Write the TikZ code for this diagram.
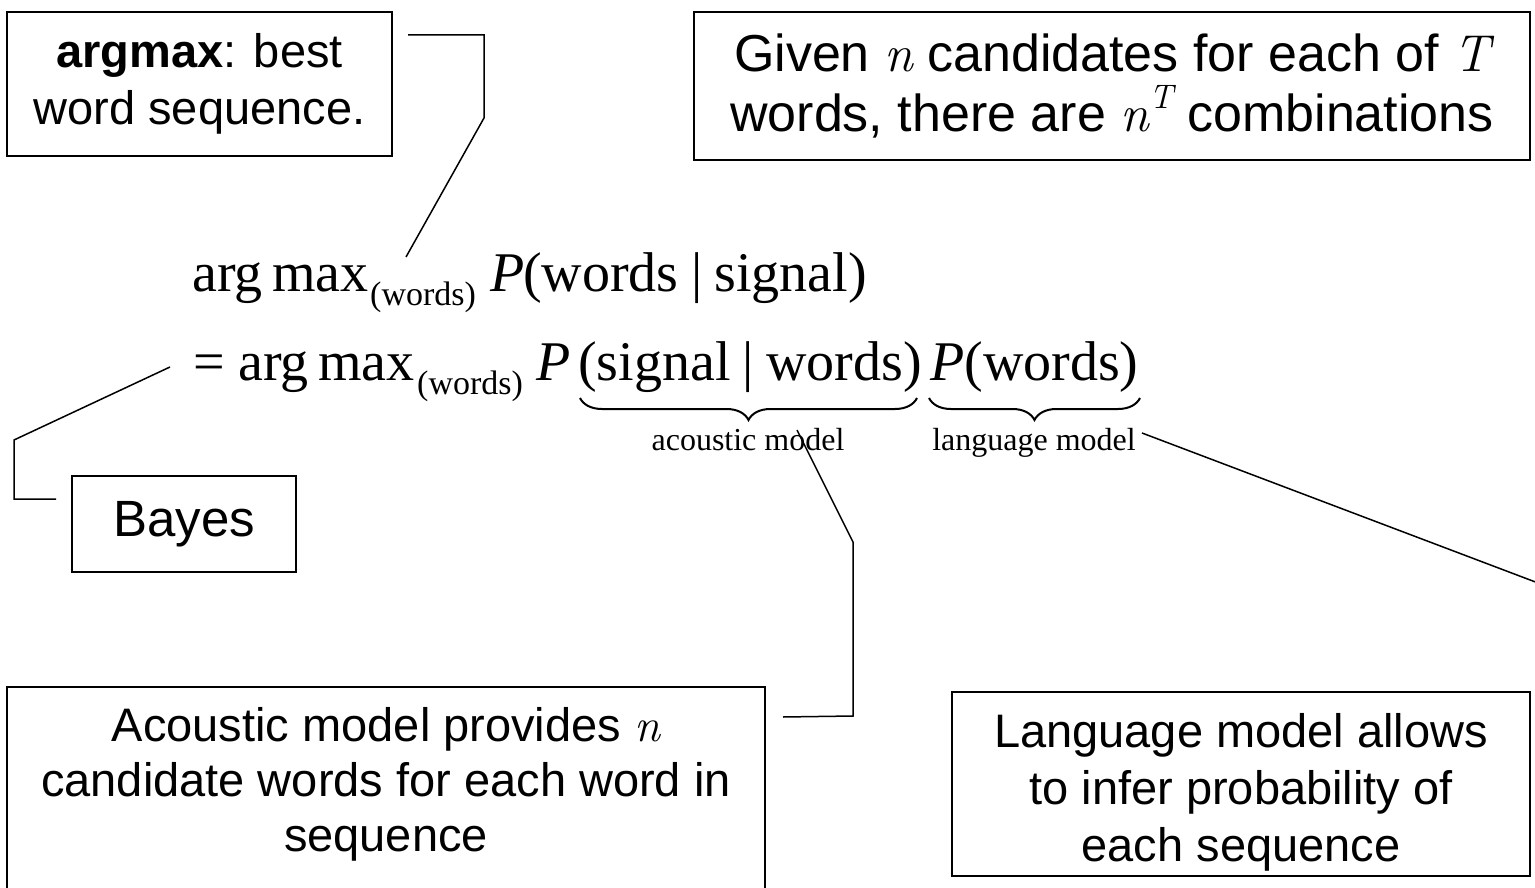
\documentclass[tikz,border=0pt]{standalone}
\usepackage{fontspec}
\setmainfont{Liberation Sans}
\newfontfamily\eqfont{Liberation Serif}
\newfontfamily\varfont{Latin Modern Roman}
\usetikzlibrary{decorations.pathreplacing}

\tikzset{
  frame/.style={draw, line width=2.5pt, inner sep=0pt},
  note/.style={align=center, inner sep=0pt},
  lead/.style={line width=1.5pt},
  eqpart/.style={anchor=base west, inner sep=0pt, font=\eqfont\fontsize{56}{56}\selectfont},
  eqsub/.style={anchor=base west, inner sep=0pt, font=\eqfont\fontsize{34}{34}\selectfont},
  brlabel/.style={anchor=base, inner sep=0pt, font=\eqfont\fontsize{32}{32}\selectfont},
  ubrace/.style={decorate, decoration={brace, mirror, amplitude=22pt}, line width=2pt}
}
\newcommand{\var}[1]{{\varfont\itshape #1}}
\newcommand{\supvar}[1]{\raisebox{0.45em}{\fontsize{34}{34}\selectfont\varfont\itshape #1}}
\newcommand{\condbar}{\hspace{0.22em}|\hspace{0.22em}}

\begin{document}
\begin{tikzpicture}[x=1pt, y=-1pt]
\useasboundingbox (0,0) rectangle (1535,888);

% framed notes
\node[frame, note, minimum width=385pt, minimum height=144pt, font=\fontsize{47}{57}\selectfont]
  (argbox) at (199.5,84) {\textbf{argmax}: best\\word sequence.};
\node[frame, note, minimum width=836pt, minimum height=148pt, font=\fontsize{52}{60}\selectfont]
  (combbox) at (1112,86) {Given \var{n} candidates for each of \var{T}\\words, there are \var{n}\supvar{T} combinations};
\node[frame, note, minimum width=224pt, minimum height=96pt, font=\fontsize{51}{51}\selectfont]
  (bayesbox) at (184,524) {Bayes};
\node[frame, minimum width=758pt, minimum height=226pt] (acbox) at (386,800) {};
\node[note, font=\fontsize{47}{55}\selectfont] (actext) at (386,784)
  {Acoustic model provides \var{n}\\candidate words for each word in\\sequence};
\node[frame, minimum width=578pt, minimum height=184pt] (lmbox) at (1241,784) {};
\node[note, font=\fontsize{47}{57}\selectfont] (lmtext) at (1241,792)
  {Language model allows\\to infer probability of\\each sequence};

% first line of the derivation
\node[eqpart] (l1arg) at (192,291) {arg\,max};
\node[eqsub]  (l1sub) at (370,305) {(words)};
\node[eqpart] (l1p)   at (490,291) {\textit{P}};
\node[eqpart] (l1arg2) at (523,291) {(words\condbar signal)};

% second line of the derivation
\node[eqpart] (l2eq)  at (193,380) {=};
\node[eqpart] (l2arg) at (238,380) {arg\,max};
\node[eqsub]  (l2sub) at (417,394) {(words)};
\node[eqpart] (l2p)   at (536,380) {\textit{P}};
\node[eqpart] (l2am)  at (578,380) {(signal\condbar words)};
\node[eqpart] (l2lm)  at (930,380) {\textit{P}(words)};

% under-braces and their labels
\coordinate (b1l) at (580,398);
\coordinate (b1r) at (917,398);
\coordinate (b2l) at (929,398);
\coordinate (b2r) at (1140,398);
\draw[ubrace] (b1l) -- (b1r);
\draw[ubrace] (b2l) -- (b2r);
\node[brlabel] (aclabel) at (748,450) {acoustic model};
\node[brlabel] (lmlabel) at (1034,450) {language model};

% leader lines
\coordinate (a1) at (408,35);
\coordinate (a2) at (484,35);
\coordinate (a3) at (484,118);
\coordinate (a4) at (406,257);
\draw[lead] (a1) -- (a2) -- (a3) -- (a4);

\coordinate (y1) at (56,499);
\coordinate (y2) at (14,499);
\coordinate (y3) at (14,440);
\coordinate (y4) at (170,367);
\draw[lead] (y1) -- (y2) -- (y3) -- (y4);

\coordinate (c1) at (783,717);
\coordinate (c2) at (853,716);
\coordinate (c3) at (853,542);
\coordinate (c4) at (797,430);
\draw[lead] (c1) -- (c2) -- (c3) -- (c4);

\coordinate (l1) at (1142,433);
\coordinate (l2) at (1546,586);
\draw[lead] (l1) -- (l2);
\end{tikzpicture}
\end{document}
